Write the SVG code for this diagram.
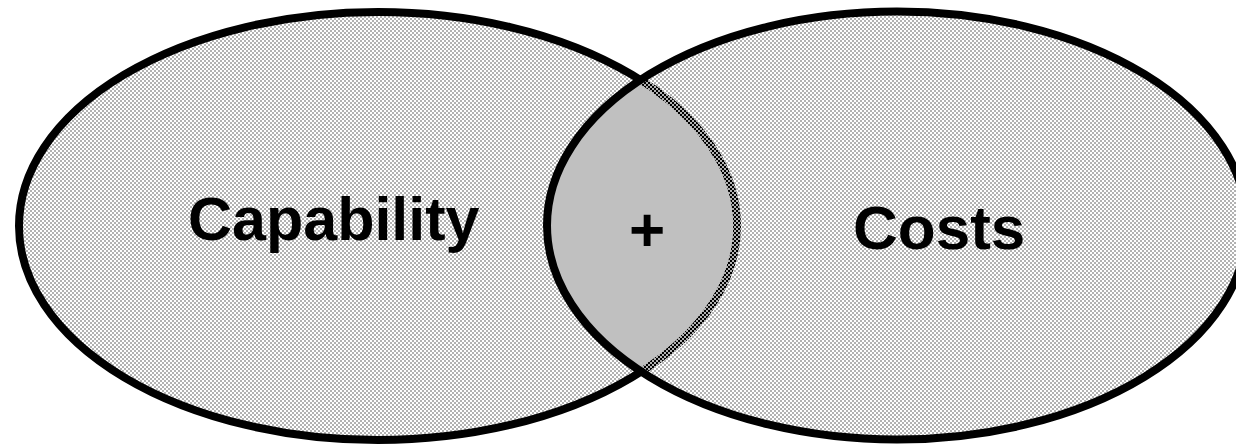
<svg xmlns="http://www.w3.org/2000/svg" width="1236" height="445" viewBox="0 0 1236 445">
  <defs>
    <pattern id="chkL" patternUnits="userSpaceOnUse" width="4" height="4">
      <rect width="4" height="4" fill="#ffffff"/>
      <rect x="0" y="0" width="2" height="2" fill="#b2b2b2"/>
      <rect x="2" y="2" width="2" height="2" fill="#b2b2b2"/>
    </pattern>
    <pattern id="chkR" patternUnits="userSpaceOnUse" width="4" height="4">
      <rect x="0" y="0" width="2" height="2" fill="#b2b2b2"/>
      <rect x="2" y="2" width="2" height="2" fill="#b2b2b2"/>
    </pattern>
    <clipPath id="leftInner">
      <ellipse cx="378" cy="226" rx="355" ry="210"/>
    </clipPath>
    <style>
      .lbl { font-family: "Liberation Sans", Arial, sans-serif; font-weight: bold; fill: #000; }
      .outline { fill: none; stroke: #000; stroke-width: 8; }
    </style>
  </defs>
  <rect width="1236" height="445" fill="#ffffff"/>
  <g id="capability">
    <ellipse cx="378" cy="226" rx="359" ry="214" fill="url(#chkL)" stroke="#000" stroke-width="8"/>
    <text class="lbl" x="188" y="240" font-size="61">Capability</text>
  </g>
  <g id="costs">
    <ellipse cx="897" cy="225.5" rx="350" ry="214" fill="url(#chkR)"/>
  </g>
  <g id="overlap">
    <ellipse cx="897" cy="225.5" rx="350" ry="214" fill="#c0c0c0" clip-path="url(#leftInner)"/>
    <text class="lbl" x="647" y="251" font-size="62" text-anchor="middle">+</text>
  </g>
  <g id="costs-outline">
    <ellipse class="outline" cx="897" cy="225.5" rx="350" ry="214"/>
    <text class="lbl" x="853" y="249" font-size="62">Costs</text>
  </g>
  <g id="connectors"/>
</svg>
